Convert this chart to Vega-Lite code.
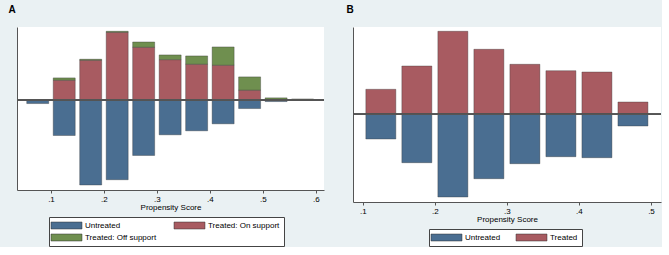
{
  "$schema": "https://vega.github.io/schema/vega-lite/v6.json",
  "background": "#EAF1F3",
  "padding": {"left": 8, "top": 5, "right": 0, "bottom": 0},
  "bounds": "flush",
  "spacing": 29,
  "config": {
    "font": "Liberation Sans",
    "view": {"fill": "white", "stroke": null},
    "axis": {"grid": false, "domainColor": "#555555", "tickColor": "#555555", "labelColor": "#000000", "titleColor": "#000000", "labelFontSize": 8, "titleFontSize": 8, "titleFontWeight": "normal", "labelFont": "Liberation Sans", "titleFont": "Liberation Sans"},
    "title": {"fontSize": 10, "fontWeight": "bold", "anchor": "start", "baseline": "alphabetic", "offset": 12, "font": "Liberation Sans", "color": "#000000"},
    "legend": {"labelFont": "Liberation Sans", "labelFontSize": 8, "labelColor": "#000000", "symbolType": "M-4,-0.9H4V0.9H-4Z", "symbolSize": 60, "symbolOffset": 9, "labelOffset": 14, "symbolStrokeColor": "#333333", "symbolStrokeWidth": 0.5, "symbolOpacity": 1, "strokeColor": "#444444", "fillColor": "#ffffff", "padding": 4, "rowPadding": 3, "direction": "horizontal", "orient": "none"}
  },
  "resolve": {"scale": {"color": "independent", "x": "independent", "y": "independent"}, "legend": {"color": "independent"}},
  "hconcat": [
    {
      "width": 307,
      "height": 163,
      "title": {"text": "A", "dx": -8},
      "data": {"values": [
        {"score": 0.075, "group": "Untreated", "value": -3.4},
        {"score": 0.125, "group": "Untreated", "value": -35.4},
        {"score": 0.125, "group": "Treated: On support", "value": 20},
        {"score": 0.125, "group": "Treated: Off support", "value": 2.3},
        {"score": 0.175, "group": "Untreated", "value": -85},
        {"score": 0.175, "group": "Treated: On support", "value": 40},
        {"score": 0.175, "group": "Treated: Off support", "value": 1},
        {"score": 0.225, "group": "Untreated", "value": -79.7},
        {"score": 0.225, "group": "Treated: On support", "value": 68},
        {"score": 0.225, "group": "Treated: Off support", "value": 1},
        {"score": 0.275, "group": "Untreated", "value": -55.4},
        {"score": 0.275, "group": "Treated: On support", "value": 53},
        {"score": 0.275, "group": "Treated: Off support", "value": 5.3},
        {"score": 0.325, "group": "Untreated", "value": -34.7},
        {"score": 0.325, "group": "Treated: On support", "value": 40.6},
        {"score": 0.325, "group": "Treated: Off support", "value": 4.7},
        {"score": 0.375, "group": "Untreated", "value": -30.7},
        {"score": 0.375, "group": "Treated: On support", "value": 36},
        {"score": 0.375, "group": "Treated: Off support", "value": 8.3},
        {"score": 0.425, "group": "Untreated", "value": -23.7},
        {"score": 0.425, "group": "Treated: On support", "value": 35},
        {"score": 0.425, "group": "Treated: Off support", "value": 18.3},
        {"score": 0.475, "group": "Untreated", "value": -8.4},
        {"score": 0.475, "group": "Treated: On support", "value": 10},
        {"score": 0.475, "group": "Treated: Off support", "value": 13.3},
        {"score": 0.525, "group": "Untreated", "value": -1.4},
        {"score": 0.525, "group": "Treated: Off support", "value": 2.3},
        {"score": 0.575, "group": "Treated: Off support", "value": 1.2}
      ]},
      "layer": [
        {
          "mark": {"type": "bar", "width": 22, "stroke": "#333333", "strokeWidth": 0.6, "strokeOpacity": 0.6},
          "encoding": {
            "x": {"field": "score", "type": "quantitative", "scale": {"domain": [0.0453, 0.606], "nice": false, "zero": false},
                  "axis": {"values": [0.1, 0.2, 0.3, 0.4, 0.5, 0.6], "format": ".1f", "labelExpr": "replace(datum.label, '0.', '.')", "title": "Propensity Score", "tickSize": 3, "labelPadding": 2, "titlePadding": 0}},
            "y": {"field": "value", "type": "quantitative", "stack": "zero", "scale": {"domain": [-90, 73.3], "nice": false, "zero": false},
                  "axis": {"labels": false, "ticks": false, "title": null}},
            "color": {"field": "group", "type": "nominal",
                      "scale": {"domain": ["Untreated", "Treated: On support", "Treated: Off support"], "range": ["#4A6E91", "#A85B61", "#6F8F4F"]},
                      "legend": {"title": null, "columns": 2, "columnPadding": 16, "legendX": 32, "legendY": 190}},
            "order": {"field": "group", "sort": "descending"}
          }
        },
        {"mark": {"type": "rule", "color": "#555555", "strokeWidth": 0.8}, "encoding": {"y": {"datum": 0}}}
      ]
    },
    {
      "width": 308,
      "height": 175,
      "title": {"text": "B", "dx": -6},
      "data": {"values": [
        {"score": 0.125, "group": "Untreated", "value": -24.7},
        {"score": 0.125, "group": "Treated", "value": 25},
        {"score": 0.175, "group": "Untreated", "value": -48.4},
        {"score": 0.175, "group": "Treated", "value": 48.3},
        {"score": 0.225, "group": "Untreated", "value": -82.7},
        {"score": 0.225, "group": "Treated", "value": 83},
        {"score": 0.275, "group": "Untreated", "value": -64.4},
        {"score": 0.275, "group": "Treated", "value": 65},
        {"score": 0.325, "group": "Untreated", "value": -49.4},
        {"score": 0.325, "group": "Treated", "value": 50},
        {"score": 0.375, "group": "Untreated", "value": -42.4},
        {"score": 0.375, "group": "Treated", "value": 43.6},
        {"score": 0.425, "group": "Untreated", "value": -43.4},
        {"score": 0.425, "group": "Treated", "value": 42.3},
        {"score": 0.475, "group": "Untreated", "value": -11.7},
        {"score": 0.475, "group": "Treated", "value": 12.3}
      ]},
      "layer": [
        {
          "mark": {"type": "bar", "width": 30, "stroke": "#333333", "strokeWidth": 0.6, "strokeOpacity": 0.6},
          "encoding": {
            "x": {"field": "score", "type": "quantitative", "scale": {"domain": [0.0933, 0.507], "nice": false, "zero": false},
                  "axis": {"values": [0.1, 0.2, 0.3, 0.4, 0.5], "format": ".1f", "labelExpr": "replace(datum.label, '0.', '.')", "title": "Propensity Score", "tickSize": 3, "labelPadding": 2, "titlePadding": 0}},
            "y": {"field": "value", "type": "quantitative", "stack": "zero", "scale": {"domain": [-87.7, 87.3], "nice": false, "zero": false},
                  "axis": {"labels": false, "ticks": false, "title": null}},
            "color": {"field": "group", "type": "nominal",
                      "scale": {"domain": ["Untreated", "Treated"], "range": ["#4A6E91", "#A85B61"]},
                      "legend": {"title": null, "columns": 2, "columnPadding": 14, "legendX": 76, "legendY": 202}}
          }
        },
        {"mark": {"type": "rule", "color": "#555555", "strokeWidth": 0.8}, "encoding": {"y": {"datum": 0}}}
      ]
    }
  ]
}
